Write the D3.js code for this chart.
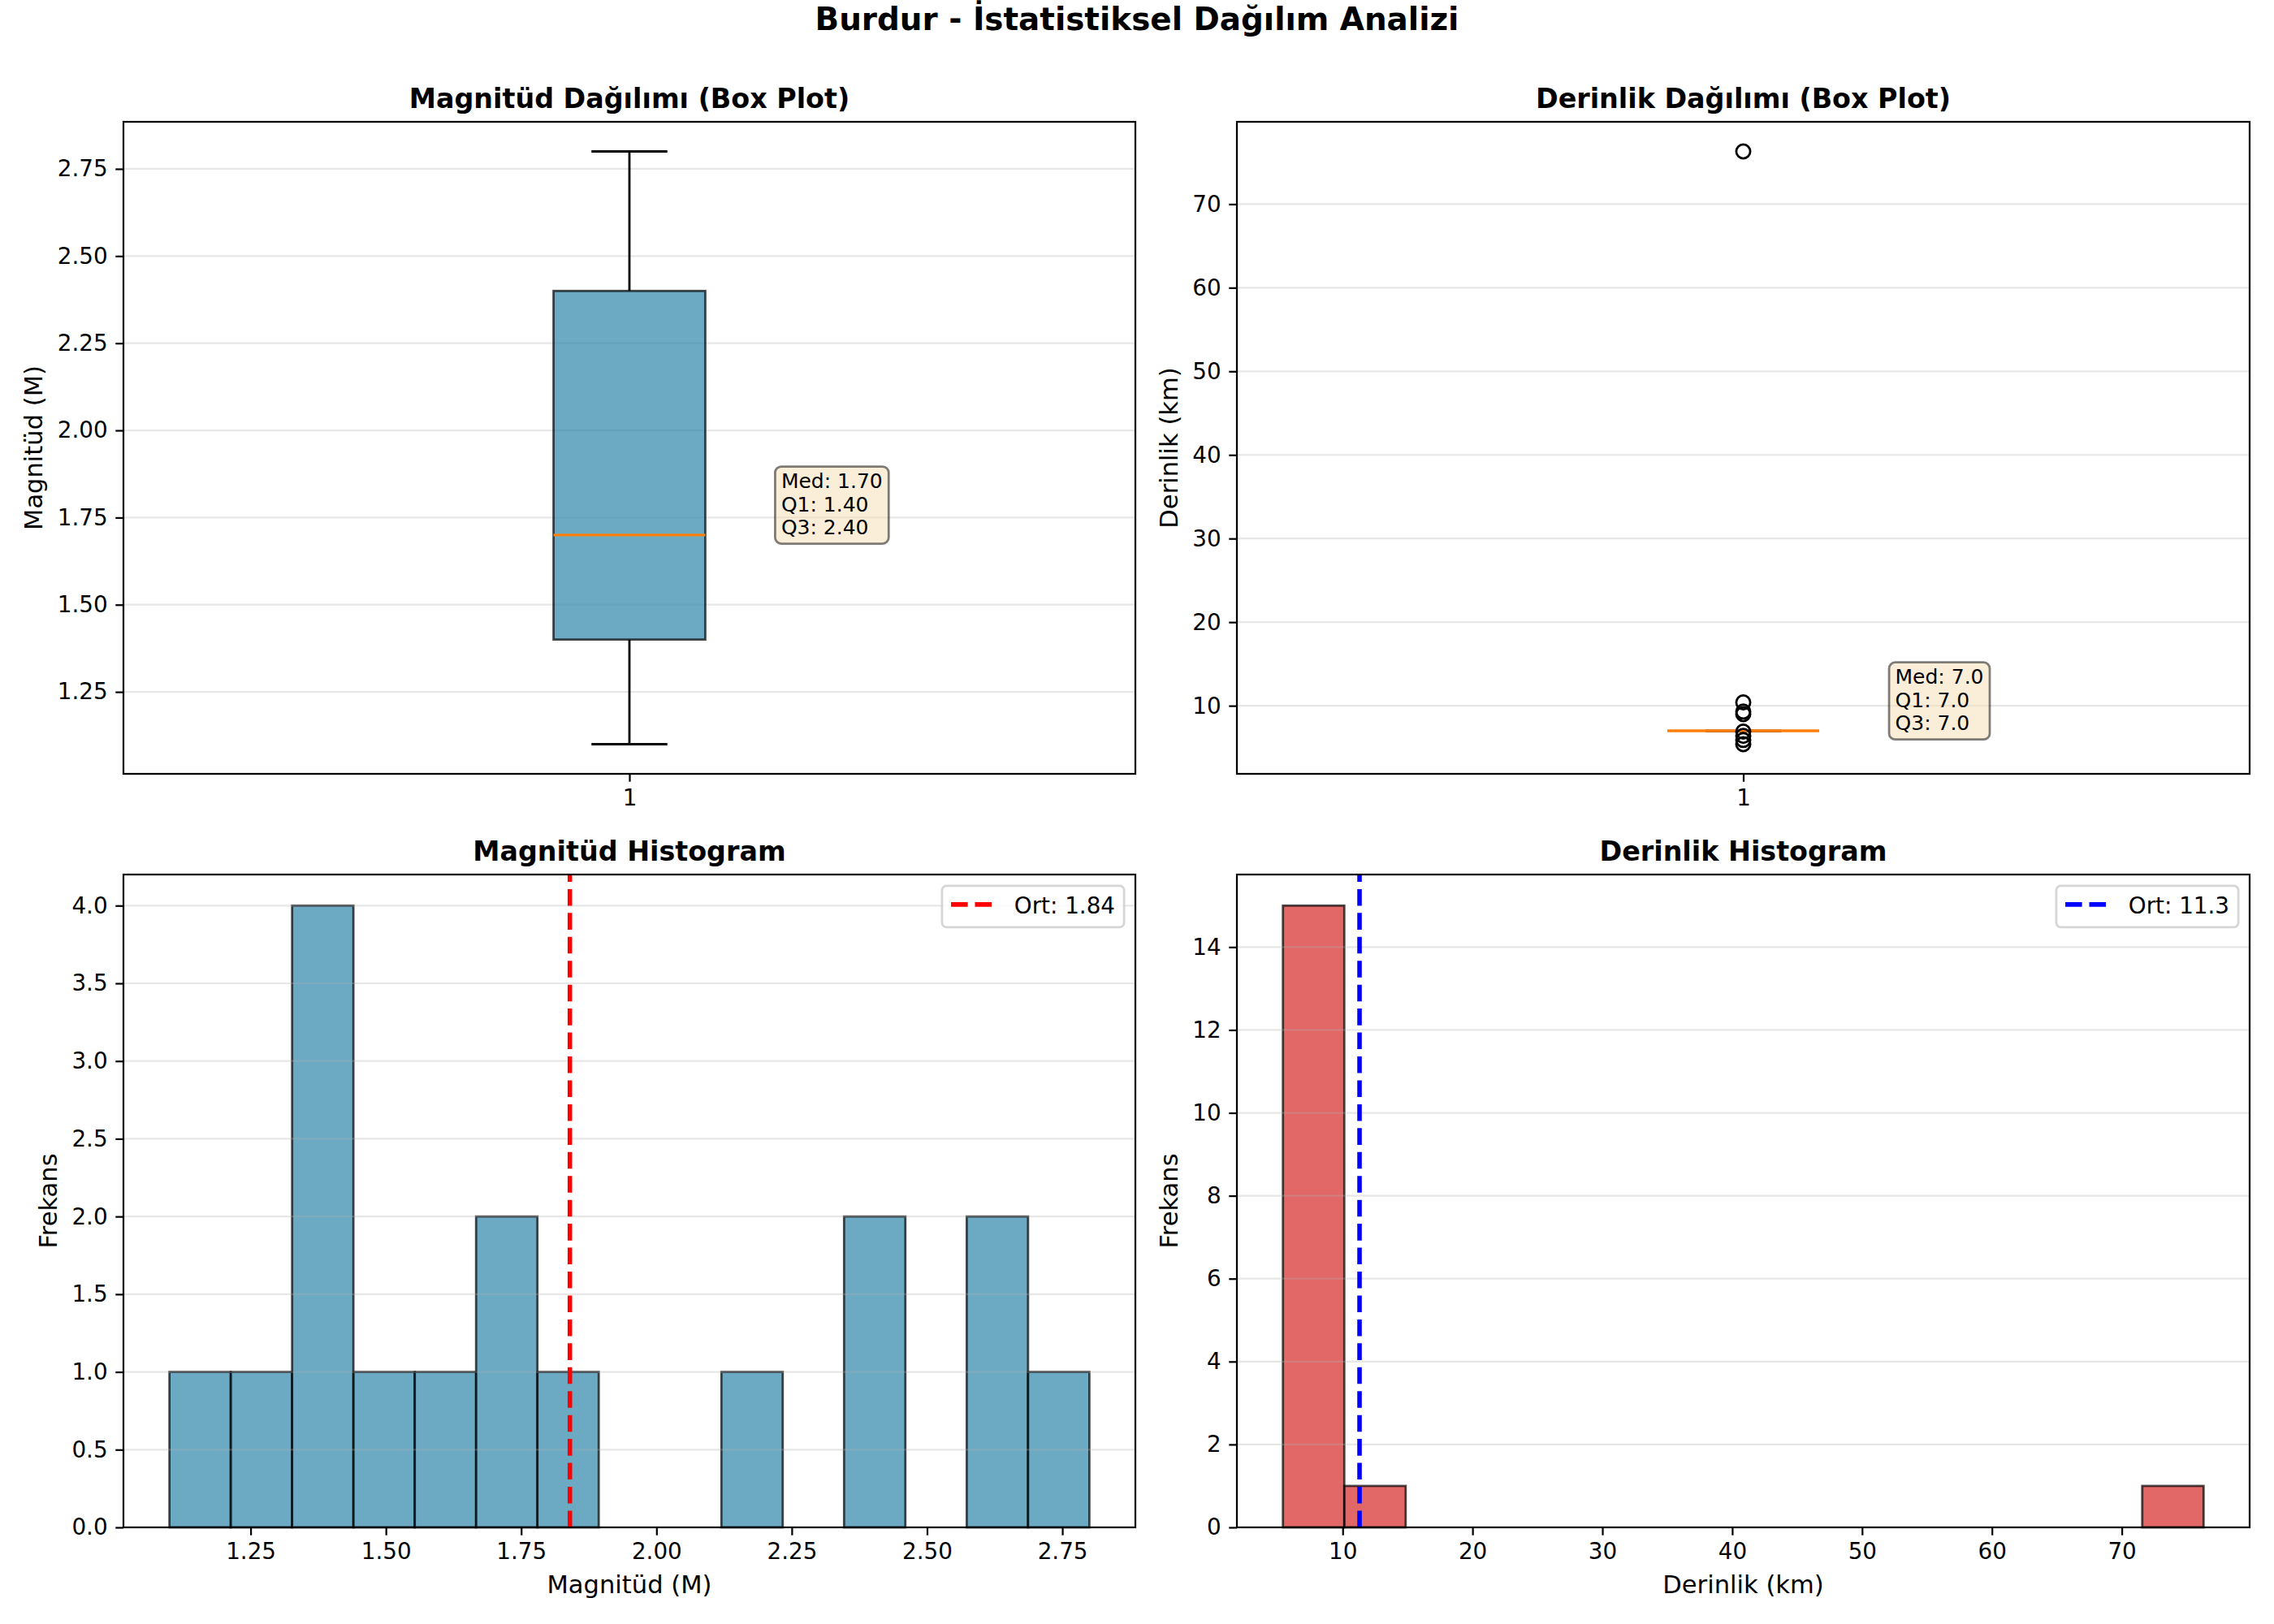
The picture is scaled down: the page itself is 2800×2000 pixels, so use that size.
<!DOCTYPE html>
<html>
<head>
<meta charset="utf-8">
<script src="https://cdn.jsdelivr.net/npm/d3@7/dist/d3.min.js"></script>
<style>
  body { margin: 0; background: #fff; }
  svg { display: block; font-family: "DejaVu Sans", sans-serif; }
</style>
</head>
<body>
<svg id="chart" width="2800" height="2000"></svg>
<script>
// values
var magBoxStats = [1.1, 1.4, 1.7, 2.4, 2.8]; // low whisker, q1, median, q3, high whisker
var magOutliers = [];
var depthBoxStats = [7.0, 7.0, 7.0, 7.0, 7.0];
var depthOutliers = [76.3, 10.4, 9.3, 9.0, 6.9, 6.4, 5.9, 5.4];

var magRange = [1.1, 2.8];
var magCounts = [1, 1, 4, 1, 1, 2, 1, 0, 0, 1, 0, 2, 0, 2, 1];
var magMean = 1.84;

var depthRange = [5.4, 76.3];
var depthCounts = [15, 1, 0, 0, 0, 0, 0, 0, 0, 0, 0, 0, 0, 0, 1];
var depthMean = 11.3;

var magBoxTicks = [1.25, 1.5, 1.75, 2.0, 2.25, 2.5, 2.75];
var depthBoxTicks = [10, 20, 30, 40, 50, 60, 70];
var magHistXTicks = [1.25, 1.5, 1.75, 2.0, 2.25, 2.5, 2.75];
var magHistYTicks = [0, 0.5, 1, 1.5, 2, 2.5, 3, 3.5, 4];
var depthHistXTicks = [10, 20, 30, 40, 50, 60, 70];
var depthHistYTicks = [0, 2, 4, 6, 8, 10, 12, 14];

var svg = d3.select("#chart");
var PT = 200 / 72; // figure is 14x10 in at 200 dpi

// panel boxes in pixels
var leftCol = { x0: 152, x1: 1398 },
  rightCol = { x0: 1523, x1: 2770 },
  topRow = { y0: 150, y1: 953 },
  bottomRow = { y0: 1077, y1: 1881 };

svg
  .append("text")
  .attr("x", 1400)
  .attr("y", 37)
  .attr("text-anchor", "middle")
  .attr("font-size", 14 * PT)
  .attr("font-weight", "bold")
  .text("Burdur - İstatistiksel Dağılım Analizi");

// pad a data range by 5% like matplotlib autoscale
function padded(lo, hi) {
  var m = (hi - lo) * 0.05;
  return [lo - m, hi + m];
}

function binEdges(range, n) {
  var edges = [];
  for (var i = 0; i <= n; i++) {
    edges.push(range[0] + ((range[1] - range[0]) * i) / n);
  }
  return edges;
}

// frame, grid, ticks, titles; returns layers to draw into
function makePanel(cols, rows, xScale, yScale, opt) {
  var g = svg.append("g");
  var under = g.append("g");
  var grid = g.append("g");
  var over = g.append("g");

  grid
    .selectAll("line")
    .data(opt.yTicks)
    .enter()
    .append("line")
    .attr("x1", cols.x0)
    .attr("x2", cols.x1)
    .attr("y1", function(d) { return yScale(d); })
    .attr("y2", function(d) { return yScale(d); })
    .attr("stroke", "#b0b0b0")
    .attr("stroke-opacity", 0.3)
    .attr("stroke-width", 0.8 * PT);

  var xAxis = g
    .append("g")
    .attr("transform", "translate(0," + rows.y1 + ")")
    .call(
      d3
        .axisBottom(xScale)
        .tickValues(opt.xTicks)
        .tickFormat(opt.xFormat)
        .tickSize(3.5 * PT)
        .tickPadding(3.5 * PT)
    );
  var yAxis = g
    .append("g")
    .attr("transform", "translate(" + cols.x0 + ",0)")
    .call(
      d3
        .axisLeft(yScale)
        .tickValues(opt.yTicks)
        .tickFormat(opt.yFormat)
        .tickSize(3.5 * PT)
        .tickPadding(3.5 * PT)
    );
  [xAxis, yAxis].forEach(function(a) {
    a.select(".domain").remove();
    a.selectAll(".tick line").attr("stroke", "#000").attr("stroke-width", 0.8 * PT);
    a.selectAll(".tick text")
      .attr("fill", "#000")
      .attr("font-size", 10 * PT)
      .attr("font-family", "DejaVu Sans");
  });

  g.append("rect")
    .attr("x", cols.x0)
    .attr("y", rows.y0)
    .attr("width", cols.x1 - cols.x0)
    .attr("height", rows.y1 - rows.y0)
    .attr("fill", "none")
    .attr("stroke", "#000")
    .attr("stroke-width", 0.8 * PT);

  g.append("text")
    .attr("x", (cols.x0 + cols.x1) / 2)
    .attr("y", rows.y0 - 17)
    .attr("text-anchor", "middle")
    .attr("font-size", 12 * PT)
    .attr("font-weight", "bold")
    .text(opt.title);

  // y label goes left of the widest tick label
  var minX = yAxis.node().getBBox().x + cols.x0;
  var lx = minX - 4 * PT - 0.236 * 11 * PT;
  var ly = (rows.y0 + rows.y1) / 2;
  g.append("text")
    .attr("transform", "translate(" + lx + "," + ly + ") rotate(-90)")
    .attr("text-anchor", "middle")
    .attr("font-size", 11 * PT)
    .text(opt.yLabel);

  if (opt.xLabel) {
    g.append("text")
      .attr("x", (cols.x0 + cols.x1) / 2)
      .attr("y", rows.y1 + 81)
      .attr("text-anchor", "middle")
      .attr("font-size", 11 * PT)
      .text(opt.xLabel);
  }
  return { under: under, over: over };
}

function drawBox(layer, xScale, yScale, stats, outliers, label) {
  var cx = xScale(1),
    bw = xScale(1.075) - xScale(0.925),
    cw = bw / 2;
  var q1 = yScale(stats[1]),
    q3 = yScale(stats[3]);

  // whiskers
  layer
    .selectAll("line.whisker")
    .data([[stats[0], stats[1]], [stats[3], stats[4]]])
    .enter()
    .append("line")
    .attr("class", "whisker")
    .attr("x1", cx)
    .attr("x2", cx)
    .attr("y1", function(d) { return yScale(d[0]); })
    .attr("y2", function(d) { return yScale(d[1]); })
    .attr("stroke", "#000")
    .attr("stroke-width", PT);

  layer
    .append("rect")
    .attr("x", cx - bw / 2)
    .attr("y", q3)
    .attr("width", bw)
    .attr("height", q1 - q3)
    .attr("fill", "#2E86AB")
    .attr("fill-opacity", 0.7)
    .attr("stroke", "#000")
    .attr("stroke-opacity", 0.7)
    .attr("stroke-width", PT);

  // caps
  layer
    .selectAll("line.cap")
    .data([stats[0], stats[4]])
    .enter()
    .append("line")
    .attr("class", "cap")
    .attr("x1", cx - cw / 2)
    .attr("x2", cx + cw / 2)
    .attr("y1", function(d) { return yScale(d); })
    .attr("y2", function(d) { return yScale(d); })
    .attr("stroke", "#000")
    .attr("stroke-width", PT);

  layer
    .append("line")
    .attr("x1", cx - bw / 2)
    .attr("x2", cx + bw / 2)
    .attr("y1", yScale(stats[2]))
    .attr("y2", yScale(stats[2]))
    .attr("stroke", "#ff7f0e")
    .attr("stroke-width", 1.2 * PT);

  layer
    .selectAll("circle.flier")
    .data(outliers)
    .enter()
    .append("circle")
    .attr("class", "flier")
    .attr("cx", cx)
    .attr("cy", function(d) { return yScale(d); })
    .attr("r", 8.6)
    .attr("fill", "none")
    .attr("stroke", "#000")
    .attr("stroke-width", PT);

  // stats box next to the plot
  var lines = [
    "Med: " + label(stats[2]),
    "Q1: " + label(stats[1]),
    "Q3: " + label(stats[3])
  ];
  var tx = xScale(1.15),
    lastBase = yScale(stats[2]) - 1,
    lh = 28.3,
    firstBase = lastBase - lh * (lines.length - 1);
  var note = layer.append("g");
  var bg = note.append("rect");
  var txt = note
    .selectAll("text")
    .data(lines)
    .enter()
    .append("text")
    .attr("x", tx)
    .attr("y", function(d, i) { return firstBase + i * lh; })
    .attr("font-size", 9 * PT)
    .text(function(d) { return d; });
  var w = d3.max(txt.nodes(), function(n) { return n.getComputedTextLength(); });
  bg.attr("x", tx - 7.5)
    .attr("y", firstBase - 26.7)
    .attr("width", w + 15)
    .attr("height", lastBase + 11.7 - (firstBase - 26.7))
    .attr("rx", 7.5)
    .attr("fill", "#F5DEB3")
    .attr("fill-opacity", 0.5)
    .attr("stroke", "#000")
    .attr("stroke-opacity", 0.5)
    .attr("stroke-width", PT);
}

function drawHist(layers, xScale, yScale, range, counts, color) {
  var edges = binEdges(range, counts.length);
  var bins = counts.map(function(c, i) {
    return { x0: edges[i], x1: edges[i + 1], n: c };
  });
  layers.under
    .selectAll("rect.bar")
    .data(bins.filter(function(d) { return d.n > 0; }))
    .enter()
    .append("rect")
    .attr("class", "bar")
    .attr("x", function(d) { return xScale(d.x0); })
    .attr("y", function(d) { return yScale(d.n); })
    .attr("width", function(d) { return xScale(d.x1) - xScale(d.x0); })
    .attr("height", function(d) { return yScale(0) - yScale(d.n); })
    .attr("fill", color)
    .attr("fill-opacity", 0.7)
    .attr("stroke", "#000")
    .attr("stroke-opacity", 0.7)
    .attr("stroke-width", PT);
}

function drawMean(layers, xScale, rows, cols, mean, color, label) {
  var dash = 3.7 * 2 * PT + "," + 1.6 * 2 * PT;
  layers.over
    .append("line")
    .attr("x1", xScale(mean))
    .attr("x2", xScale(mean))
    .attr("y1", rows.y1)
    .attr("y2", rows.y0)
    .attr("stroke", color)
    .attr("stroke-width", 2 * PT)
    .attr("stroke-dasharray", dash);

  // legend, upper right
  var fs = 10 * PT;
  var leg = layers.over.append("g");
  var frame = leg.append("rect");
  var t = leg
    .append("text")
    .attr("font-size", fs)
    .text(label);
  var tw = t.node().getComputedTextLength();
  var lw = 0.4 * fs + 2 * fs + 0.8 * fs + tw + 0.4 * fs;
  var lx = cols.x1 - 0.5 * fs - lw,
    ly = rows.y0 + 0.5 * fs;
  frame
    .attr("x", lx)
    .attr("y", ly)
    .attr("width", lw)
    .attr("height", 51)
    .attr("rx", 0.2 * fs)
    .attr("fill", "#fff")
    .attr("fill-opacity", 0.8)
    .attr("stroke", "#cccccc")
    .attr("stroke-opacity", 0.8)
    .attr("stroke-width", PT);
  leg.append("line")
    .attr("x1", lx + 0.4 * fs)
    .attr("x2", lx + 2.4 * fs)
    .attr("y1", ly + 23)
    .attr("y2", ly + 23)
    .attr("stroke", color)
    .attr("stroke-width", 2 * PT)
    .attr("stroke-dasharray", dash);
  t.attr("x", lx + 3.2 * fs).attr("y", ly + 34);
}

// top left: magnitude box plot
var xMagBox = d3.scaleLinear().domain([0.5, 1.5]).range([leftCol.x0, leftCol.x1]);
var yMagBox = d3
  .scaleLinear()
  .domain(padded(magBoxStats[0], magBoxStats[4]))
  .range([topRow.y1, topRow.y0]);
var p1 = makePanel(leftCol, topRow, xMagBox, yMagBox, {
  xTicks: [1],
  yTicks: magBoxTicks,
  xFormat: d3.format("d"),
  yFormat: d3.format(".2f"),
  title: "Magnitüd Dağılımı (Box Plot)",
  yLabel: "Magnitüd (M)"
});
drawBox(p1.over, xMagBox, yMagBox, magBoxStats, magOutliers, d3.format(".2f"));

// top right: depth box plot
var allDepth = depthOutliers.concat(depthBoxStats);
var xDepthBox = d3.scaleLinear().domain([0.5, 1.5]).range([rightCol.x0, rightCol.x1]);
var yDepthBox = d3
  .scaleLinear()
  .domain(padded(d3.min(allDepth), d3.max(allDepth)))
  .range([topRow.y1, topRow.y0]);
var p2 = makePanel(rightCol, topRow, xDepthBox, yDepthBox, {
  xTicks: [1],
  yTicks: depthBoxTicks,
  xFormat: d3.format("d"),
  yFormat: d3.format("d"),
  title: "Derinlik Dağılımı (Box Plot)",
  yLabel: "Derinlik (km)"
});
drawBox(p2.over, xDepthBox, yDepthBox, depthBoxStats, depthOutliers, d3.format(".1f"));

// bottom left: magnitude histogram
var xMagHist = d3
  .scaleLinear()
  .domain(padded(magRange[0], magRange[1]))
  .range([leftCol.x0, leftCol.x1]);
var yMagHist = d3
  .scaleLinear()
  .domain([0, d3.max(magCounts) * 1.05])
  .range([bottomRow.y1, bottomRow.y0]);
var p3 = makePanel(leftCol, bottomRow, xMagHist, yMagHist, {
  xTicks: magHistXTicks,
  yTicks: magHistYTicks,
  xFormat: d3.format(".2f"),
  yFormat: d3.format(".1f"),
  title: "Magnitüd Histogram",
  yLabel: "Frekans",
  xLabel: "Magnitüd (M)"
});
drawHist(p3, xMagHist, yMagHist, magRange, magCounts, "#2E86AB");
drawMean(p3, xMagHist, bottomRow, leftCol, magMean, "#ff0000", "Ort: " + d3.format(".2f")(magMean));

// bottom right: depth histogram
var xDepthHist = d3
  .scaleLinear()
  .domain(padded(depthRange[0], depthRange[1]))
  .range([rightCol.x0, rightCol.x1]);
var yDepthHist = d3
  .scaleLinear()
  .domain([0, d3.max(depthCounts) * 1.05])
  .range([bottomRow.y1, bottomRow.y0]);
var p4 = makePanel(rightCol, bottomRow, xDepthHist, yDepthHist, {
  xTicks: depthHistXTicks,
  yTicks: depthHistYTicks,
  xFormat: d3.format("d"),
  yFormat: d3.format("d"),
  title: "Derinlik Histogram",
  yLabel: "Frekans",
  xLabel: "Derinlik (km)"
});
drawHist(p4, xDepthHist, yDepthHist, depthRange, depthCounts, "#D62828");
drawMean(p4, xDepthHist, bottomRow, rightCol, depthMean, "#0000ff", "Ort: " + d3.format(".1f")(depthMean));
</script>
</body>
</html>
